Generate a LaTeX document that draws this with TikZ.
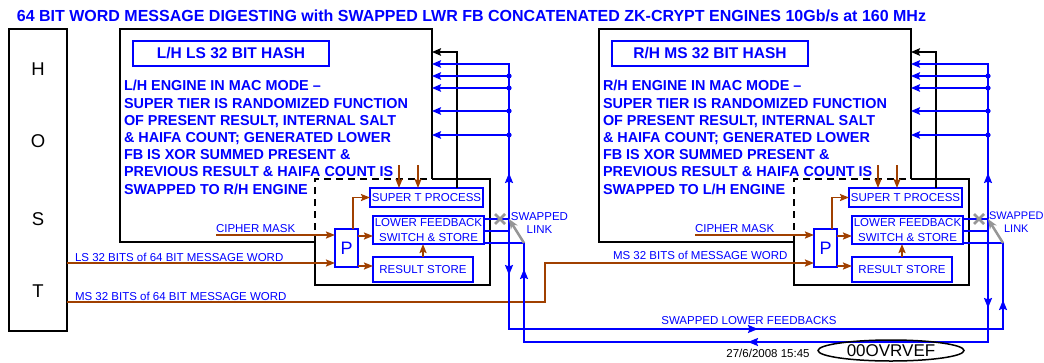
\documentclass[tikz,border=0pt]{standalone}
\usepackage{fontspec}
\setmainfont{Liberation Sans}
\usetikzlibrary{arrows.meta,decorations.markings,shapes.geometric,calc}
\definecolor{hblue}{RGB}{0,0,255}
\definecolor{hbrown}{RGB}{160,64,0}
\definecolor{hgray}{RGB}{150,150,150}
\tikzset{
  bigbox/.style={draw=black,line width=1.8pt,inner sep=0,outer sep=0},
  blkline/.style={draw=black,line width=1.8pt},
  titlebox/.style={draw=hblue,line width=1.5pt,text=hblue,font=\bfseries\fontsize{15.5}{18}\selectfont,inner sep=0,outer sep=0,minimum width=196,minimum height=25},
  bodytext/.style={text=hblue,font=\bfseries\fontsize{14.4}{17.2}\selectfont,align=left,inner sep=0,outer sep=0},
  sbox/.style={draw=hblue,line width=1.2pt,text=hblue,font=\fontsize{11.5}{14.4}\selectfont,align=center,inner sep=0,outer sep=0},
  lbl/.style={text=hblue,font=\fontsize{11.5}{13}\selectfont,inner sep=0,outer sep=0},
  bln/.style={draw=hblue,line width=1.8pt},
  brn/.style={draw=hbrown,line width=1.8pt,-{Stealth[length=9pt,width=7pt,inset=1.5pt]}},
  blarr/.style={-{Stealth[length=9pt,width=7.5pt,inset=1.5pt]}},
  midarr/.style={postaction={decorate,decoration={markings,mark=at position #1 with {\arrow{Stealth[length=10pt,width=8pt,inset=1.5pt]}}}}},
  hostl/.style={font=\fontsize{18.5}{20}\selectfont,inner sep=0},
}
\newcommand\drawengine[4]{%
\begin{scope}[xshift=#1]
 \node[bigbox,minimum width=312,minimum height=213] (#2big) at (276,135.5) {};
 \node[fill=white,inner sep=0,outer sep=0,minimum width=175,minimum height=106] (#2in) at (402.5,232) {};
 \draw[blkline] (432,179) -- (490,179) -- (490,285) -- (315,285) -- (315,242);
 \draw[blkline,line width=1.4pt,dash pattern=on 7pt off 5pt] (315,242) -- (315,179) -- (432,179);
 \node[titlebox] (#2title) at (231,53.5) {#3};
 \node[bodytext,anchor=north west] (#2body) at (124,80.5) {#4};
 \node[sbox,minimum width=113,minimum height=19] (#2st) at (426.5,197.5) {SUPER T PROCESS};
 \node[sbox,minimum width=111,minimum height=28] (#2lfb) at (428.5,230) {LOWER FEEDBACK\\SWITCH \& STORE};
 \node[sbox,minimum width=100,minimum height=25] (#2rs) at (423,269.5) {RESULT STORE};
 \node[sbox,minimum width=23,minimum height=38,font=\fontsize{18}{20}\selectfont] (#2p) at (346.5,248) {P};
 % brown connectors
 \coordinate (#2cm) at (216,235);
 \node[lbl,anchor=west] (#2cml) at (216,229) {CIPHER MASK};
 \draw[brn] (#2cm) -- (#2cm -| #2p.west);
 \coordinate (#2pa) at (353,229);
 \draw[brn] (#2pa) |- (#2st.west);
 \coordinate (#2pb) at (358,236);
 \draw[brn] (#2pb) -- (#2pb -| #2lfb.west);
 \coordinate (#2pc) at (358,266);
 \draw[brn] (#2pc) -- (#2pc -| #2rs.west);
 \draw[brn] (#2rs.north) -- (#2rs.north |- #2lfb.south);
 \coordinate (#2s1) at (399,165);
 \coordinate (#2s2) at (418,165);
 \draw[brn] (#2s1) -- (#2s1 |- #2st.north);
 \draw[brn] (#2s2) -- (#2s2 |- #2st.north);
 % black feedback
 \coordinate (#2bk) at (457,52);
 \draw[blkline,line width=1.5pt,blarr] (#2st.north -| #2bk) -- (#2bk) -- (#2bk -| #2big.east);
 % blue distribution
 \coordinate (#2j) at (509,231);
 \coordinate (#2top) at (509,64);
 \coordinate (#2u) at (509,219);
 \coordinate (#2low) at (524,243);
 \draw[bln,blarr,midarr=58pt] (#2j) -- (#2top) -- (#2top -| #2big.east);
 \foreach \yy in {76,88,111,135} {
   \coordinate (#2d\yy) at (509,\yy);
   \draw[bln,blarr] (#2d\yy) -- (#2d\yy -| #2big.east);
   \fill[hblue] (#2d\yy) circle[radius=2.6pt];
 }
 \draw[bln] (#2u -| #2lfb.east) -- (#2u);
 \draw[bln] (#2j -| #2lfb.east) -- (#2j);
 \coordinate (#2x) at (500,219);
 \draw[hgray,line width=2.5pt] ($(#2x)+(-5,-5)$) -- ($(#2x)+(5,5)$) ($(#2x)+(-5,5)$) -- ($(#2x)+(5,-5)$);
\end{scope}}

\begin{document}
\begin{tikzpicture}[x=1pt,y=-1pt]
\useasboundingbox (0,0) rectangle (1044,362);
\node[text=hblue,font=\bfseries\fontsize{16}{18}\selectfont,inner sep=0] (ttl) at (471.5,16) {64 BIT WORD MESSAGE DIGESTING with SWAPPED LWR FB CONCATENATED ZK-CRYPT ENGINES 10Gb/s at 160 MHz};
% host
\node[draw,line width=1.8pt,minimum width=58,minimum height=302,inner sep=0,outer sep=0] (host) at (38,180) {};
\node[hostl] (hH) at (38,69) {H};
\node[hostl] (hO) at (38,141) {O};
\node[hostl] (hS) at (38,219) {S};
\node[hostl] (hT) at (38,291) {T};

\drawengine{0}{L}{L/H LS 32 BIT HASH}{L/H ENGINE IN MAC MODE –\\SUPER TIER IS RANDOMIZED FUNCTION\\OF PRESENT RESULT, INTERNAL SALT\\\& HAIFA COUNT; GENERATED LOWER\\FB IS XOR SUMMED PRESENT \&\\PREVIOUS RESULT \& HAIFA COUNT IS\\SWAPPED TO R/H ENGINE}
\drawengine{479}{R}{R/H MS 32 BIT HASH}{R/H ENGINE IN MAC MODE –\\SUPER TIER IS RANDOMIZED FUNCTION\\OF PRESENT RESULT, INTERNAL SALT\\\& HAIFA COUNT; GENERATED LOWER\\FB IS XOR SUMMED PRESENT \&\\PREVIOUS RESULT \& HAIFA COUNT IS\\SWAPPED TO L/H ENGINE}

\node[lbl,align=center] (Lsl) at (539.5,222.5) {SWAPPED\\LINK};
\node[lbl,align=center,anchor=east,font=\fontsize{11}{13}\selectfont] (Rsl) at (1043.6,222) {SWAPPED\\LINK};

% message word lines
\coordinate (lsy) at (100,263);
\coordinate (msk) at (545,302);
\draw[brn] (host.east |- lsy) -- (Lp.west |- lsy);
\draw[brn] (host.east |- msk) -- (msk) |- (Rp.west |- lsy);
\node[lbl,anchor=west] (lsl) at (75,257) {LS 32 BITS of 64 BIT MESSAGE WORD};
\node[lbl,anchor=west] (msl) at (75,296) {MS 32 BITS of 64 BIT MESSAGE WORD};
\node[lbl,anchor=west] (msr) at (613,255) {MS 32 BITS of MESSAGE WORD};

% swapped lower feedbacks
\coordinate (ya) at (0,329);
\coordinate (yb) at (0,342);
\draw[bln,midarr=44pt,midarr=347pt,midarr=621pt] (Lj) -- (Lj |- ya) -- (Rlow |- ya) -- (Rlow) -- (Rlow -| Rlfb.east);
\draw[bln,midarr=77pt,midarr=351pt,midarr=648pt] (Rj) -- (Rj |- yb) -- (Llow |- yb) -- (Llow) -- (Llow -| Llfb.east);
\draw[hgray,line width=2.5pt,-{Stealth[length=10pt,width=8pt]}] (Llow) -- (Lu);
\draw[hgray,line width=2.5pt,-{Stealth[length=10pt,width=8pt]}] (Rlow) -- (Ru);
\node[lbl] (slf) at (749,321) {SWAPPED LOWER FEEDBACKS};
\node[font=\fontsize{11.5}{13}\selectfont,inner sep=0] (date) at (768,353) {27/6/2008 15:45};
\node[draw,ellipse,line width=1.5pt,minimum width=146,minimum height=21,inner sep=0,font=\fontsize{17}{20}\selectfont] (tag) at (891,350.5) {00OVRVEF};
\end{tikzpicture}
\end{document}
